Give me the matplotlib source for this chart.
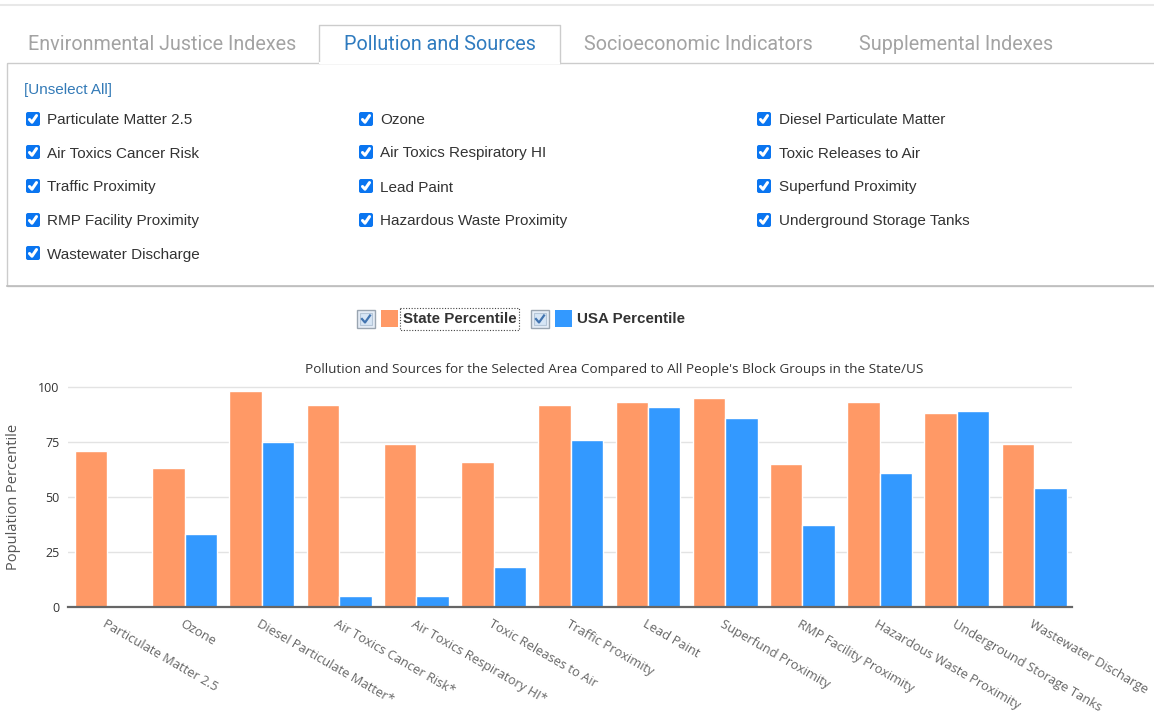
import numpy as np
import matplotlib
matplotlib.use('Agg')
import matplotlib.pyplot as plt
from matplotlib.patches import Rectangle, FancyBboxPatch

# chart data
categories = ['Particulate Matter 2.5', 'Ozone', 'Diesel Particulate Matter*',
  'Air Toxics Cancer Risk*', 'Air Toxics Respiratory HI*', 'Toxic Releases to Air',
  'Traffic Proximity', 'Lead Paint', 'Superfund Proximity', 'RMP Facility Proximity',
  'Hazardous Waste Proximity', 'Underground Storage Tanks', 'Wastewater Discharge']
state_pct = [71, 63, 98, 92, 74, 66, 92, 93, 95, 65, 93, 88, 74]
usa_pct = [0, 33, 75, 5, 5, 18, 76, 91, 86, 37, 61, 89, 54]
series_names = ['State Percentile', 'USA Percentile']
y_ticks = [0, 25, 50, 75, 100]
title = "Pollution and Sources for the Selected Area Compared to All People's Block Groups in the State/US"

# page widgets around the chart
tabs = ['Environmental Justice Indexes', 'Pollution and Sources',
  'Socioeconomic Indicators', 'Supplemental Indexes']
ACTIVE = 1
check_cols = [
  ['Particulate Matter 2.5', 'Air Toxics Cancer Risk', 'Traffic Proximity',
   'RMP Facility Proximity', 'Wastewater Discharge'],
  ['Ozone', 'Air Toxics Respiratory HI', 'Lead Paint', 'Hazardous Waste Proximity'],
  ['Diesel Particulate Matter', 'Toxic Releases to Air', 'Superfund Proximity',
   'Underground Storage Tanks'],
]

STATE = '#ff9966'
USA = '#3399ff'
LINK = '#337ab7'
W, H = 1154, 723

fig = plt.figure(figsize=(W / 100, H / 100), dpi=100)

# overlay in pixel units for the page parts
ui = fig.add_axes([0, 0, 1, 1])
ui.set_xlim(0, W)
ui.set_ylim(H, 0)
ui.axis('off')

ui.plot([0, W], [5, 5], color='#e8e8e8', lw=1.5)

# tabs
tab_x = [162, 440, 698, 956]
for name, cx, i in zip(tabs, tab_x, range(len(tabs))):
  col = '#2f7bbf' if i == ACTIVE else '#a3a3a3'
  ui.text(cx, 45, name, ha='center', va='center', fontsize=14.2,
          family='Roboto', color=col)
ui.add_patch(Rectangle((7, 63), 1160, 223, fill=False, ec='#cccccc', lw=1))
ui.plot([7, 1154], [286, 286], color='#bdbdbd', lw=1.2)
ui.plot([319, 319, 560, 560], [63, 25, 25, 63], color='#cccccc', lw=1)
ui.plot([320, 559], [63, 63], color='white', lw=1.5)

# checkbox list
ui.text(24, 90, '[Unselect All]', va='center', fontsize=11,
        family='Liberation Sans', color=LINK)

def checkbox(x, y, s=14):
  ui.add_patch(FancyBboxPatch((x + 2, y + 2), s - 4, s - 4,
               boxstyle='round,pad=2', fc='#0a75f0', ec='#0a75f0', lw=0))
  ui.plot([x + 3.5, x + 6, x + 10.5], [y + 7.5, y + 10.2, y + 3.6],
          color='white', lw=2.2, solid_capstyle='round', solid_joinstyle='round')

col_box = [26, 359, 757]
col_txt = [47, 380, 779]
row_y = [120, 153, 187, 221, 254]
for c, items in enumerate(check_cols):
  for r, label in enumerate(items):
    checkbox(col_box[c], row_y[r] - 8)
    ui.text(col_txt[c], row_y[r] + 0.5, label, va='center', fontsize=11,
            family='Liberation Sans', color='#333333')

# legend
def old_checkbox(x, y, s=18):
  ui.add_patch(Rectangle((x, y), s, s, fc='#e6eef7', ec='#9aa5b1', lw=1))
  ui.add_patch(Rectangle((x + 3, y + 3), s - 6, s - 6, fc='#d6e5f5', ec='#b5c6d8', lw=0.8))
  ui.plot([x + 5, x + 8, x + 13], [y + 9, y + 12.5, y + 5.5], color='#4274b0', lw=1.6)

for name, col, bx in zip(series_names, [STATE, USA], [357, 531]):
  old_checkbox(bx, 310)
  ui.add_patch(Rectangle((bx + 24, 310), 17, 17, fc=col, ec='none'))
  ui.text(bx + 46, 319, name, va='center', fontsize=10.9, fontweight='bold',
          family='Liberation Sans', color='#333333')
ui.add_patch(Rectangle((400, 307.5), 119, 22, fill=False, ec='#444444', lw=0.8,
             ls=(0, (1, 1.5))))

ui.text(614, 369, title, ha='center', va='center', fontsize=9.7,
        family='Open Sans', color='#333333')

# the chart itself
YMAX = 101
top_px = 606.7 - 219.7 * YMAX / 100
ax = fig.add_axes([68 / W, 1 - 606.7 / H, (1072 - 68) / W, (606.7 - top_px) / H])
ax.patch.set_alpha(0)
x = np.arange(len(categories))
ax.bar(x + 0.3, state_pct, 0.42, color=STATE, edgecolor='white', linewidth=1,
       label=series_names[0], zorder=2)
ax.bar(x + 0.72, usa_pct, 0.42, color=USA, edgecolor='white', linewidth=1,
       label=series_names[1], zorder=2)
ax.set_xlim(0, len(categories))
ax.set_ylim(0, YMAX)
ax.set_yticks(y_ticks)
ax.yaxis.grid(True, color='#e3e3e3', lw=1)
ax.set_axisbelow(True)
for s in ['top', 'right', 'left']:
  ax.spines[s].set_visible(False)
ax.spines['bottom'].set_color('#666666')
ax.spines['bottom'].set_linewidth(1.6)
ax.spines['bottom'].set_zorder(3)
ax.set_xticks(x + 0.5)
ax.set_xticklabels(categories, rotation=-30, ha='left', va='top',
                   rotation_mode='anchor', fontsize=9.3, color='#666666',
                   family='Open Sans')
ax.tick_params(axis='x', length=0, pad=8)
ax.tick_params(axis='y', length=0, pad=6, labelsize=9, labelcolor='#333333')
for t in ax.get_yticklabels():
  t.set_family('Open Sans')
ax.set_ylabel('Population Percentile', fontsize=10.5, color='#555555', family='Open Sans')
ax.yaxis.set_label_coords(-0.047, 1 - (496.8 - top_px) / (606.7 - top_px))

fig.savefig('out.png', dpi=100)
